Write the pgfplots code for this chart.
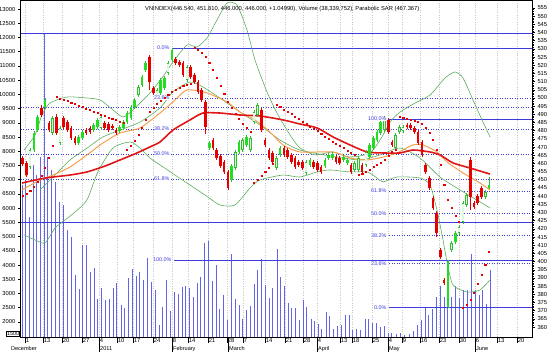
\documentclass[border=0pt]{standalone}
\usepackage{fontspec}
\setmainfont{Liberation Sans}
\usepackage{pgfplots}
\pgfplotsset{compat=1.18}
\usepackage{pgfplotstable}

\definecolor{cRed}{HTML}{E60000}
\definecolor{cGreen}{HTML}{22DD22}
\definecolor{cGreenO}{HTML}{33BB33}
\definecolor{cBlue}{HTML}{3C3CE0}
\definecolor{cVol}{HTML}{6464E6}
\definecolor{cOrange}{HTML}{F4A050}
\definecolor{cBand}{HTML}{5DAE5D}
\definecolor{cMA}{HTML}{E01515}

% candles: i, body top, body bottom, high, low (price)
\pgfplotstableread{
i t b h l
0 463.3 459.7 464.5 458.5
1 460.3 452.9 461.5 451.5
5 493.9 489.6 495.5 488.5
7 484.7 480.4 486.0 479.0
9 488.4 478.6 490.0 477.5
11 487.8 482.3 489.0 481.0
12 485.3 480.4 486.5 479.5
13 481.7 475.6 483.0 474.5
14 475.6 472.5 476.8 471.3
17 480.4 478.6 481.5 477.5
18 481.7 479.2 482.8 478.0
22 484.7 481.7 486.0 480.5
23 484.1 480.4 485.3 479.3
24 482.9 481.7 484.0 480.5
25 480.4 478.6 481.5 477.5
34 525.1 509.8 526.5 505.0
35 506.1 503.1 507.3 502.0
41 523.8 521.4 525.0 520.2
42 522.0 520.2 523.2 519.0
43 521.4 514.1 522.6 513.0
45 519.0 512.8 520.2 511.6
46 514.1 509.8 515.3 508.6
47 509.8 503.7 511.0 502.5
48 504.9 498.8 506.0 497.6
49 497.6 482.3 499.0 478.0
51 474.3 469.4 475.5 468.2
52 468.2 463.3 469.4 462.1
53 464.6 458.4 465.8 457.2
54 460.9 454.8 462.1 453.5
55 454.8 445.0 456.0 443.5
64 492.7 480.4 494.0 479.0
65 474.3 471.3 475.5 470.0
66 468.2 463.3 469.4 462.0
67 466.4 460.9 467.6 459.7
70 469.4 465.2 470.6 464.0
71 468.2 463.9 469.4 462.7
72 465.2 460.9 466.4 459.7
73 463.3 457.8 464.5 456.6
74 460.9 459.1 462.1 457.9
75 460.9 457.2 462.1 456.0
78 460.9 457.8 462.1 456.6
79 460.3 456.0 461.5 454.8
80 457.8 454.8 459.0 453.6
84 463.9 460.9 465.1 459.7
85 463.3 460.3 464.5 459.1
88 459.1 454.8 460.3 453.6
91 459.1 454.8 460.3 453.6
98 486.6 479.2 487.5 478.0
99 473.1 471.3 474.3 470.1
103 483.5 482.3 484.7 481.1
104 483.5 481.7 484.7 480.5
105 481.7 479.2 482.9 478.0
106 479.2 472.5 480.4 471.3
107 473.1 465.2 474.3 464.0
108 459.1 454.8 460.3 453.6
109 451.1 445.0 452.3 443.8
110 438.9 432.8 440.1 431.6
111 429.7 417.5 430.9 415.0
112 407.1 402.8 408.3 401.6
113 388.8 386.9 390.0 385.7
120 462.1 439.5 463.9 431.5
121 435.8 433.4 437.0 432.2
122 440.1 435.8 441.3 434.6
123 445.0 439.5 446.2 438.3
}\tabRed

\pgfplotstableread{
i t b h l
3 478.6 468.2 479.8 467.0
4 488.4 480.4 489.6 479.2
6 498.8 494.5 500.0 493.3
15 476.2 472.5 477.4 471.3
16 479.2 475.6 480.4 474.4
19 483.5 480.4 484.7 479.2
20 486.6 482.3 487.8 481.1
26 482.3 479.8 483.5 478.6
27 485.3 481.7 486.5 480.5
28 490.8 485.3 492.0 484.1
29 494.5 487.8 495.7 486.6
30 498.8 494.5 500.0 493.3
32 512.8 507.9 514.0 506.7
33 521.4 517.1 522.6 515.9
37 511.0 503.1 512.2 501.9
38 512.2 506.1 513.4 504.9
40 529.3 523.2 530.6 522.0
50 472.5 469.4 473.7 468.2
56 458.4 449.9 459.6 448.7
58 473.1 467.0 474.3 465.8
60 476.2 471.3 477.4 470.1
69 469.4 465.2 470.6 464.0
77 462.1 459.1 463.3 457.9
81 462.1 458.4 463.3 457.2
82 465.2 463.3 466.4 462.1
83 465.8 463.3 467.0 462.1
86 463.9 462.1 465.1 460.9
87 462.1 460.3 463.3 459.1
93 471.3 463.9 472.5 462.7
94 475.6 469.4 476.8 468.2
95 479.2 474.3 480.4 473.1
96 485.3 478.6 486.5 477.4
114 399.8 372.3 401.0 371.7
116 417.5 412.0 418.7 410.8
125 446.8 445.0 451.8 444.5
}\tabGreen

\pgfplotstableread{
i t b h l
2 468.2 457.8 469.4 456.6
8 487.8 478.6 489.0 477.4
10 481.7 472.5 482.9 471.3
21 488.4 481.7 489.6 480.5
31 506.7 501.8 507.9 500.6
36 504.9 500.6 506.1 499.4
39 521.4 515.3 522.6 514.1
44 519.0 511.0 520.2 509.8
57 467.0 457.2 468.2 456.0
59 474.3 468.2 475.5 467.0
61 475.6 468.2 476.8 467.0
62 491.4 485.3 492.6 484.1
63 495.7 489.6 496.9 488.4
68 463.3 457.2 464.5 456.0
76 460.9 454.2 462.1 453.0
89 460.3 456.0 461.5 454.8
90 463.3 456.0 464.5 454.8
92 467.0 459.1 468.2 457.9
97 487.8 480.4 489.0 479.2
100 477.4 469.4 478.6 468.2
101 482.3 479.2 483.5 478.0
102 482.3 479.8 483.5 478.6
115 411.4 407.1 412.6 405.9
117 421.2 417.5 422.4 416.3
118 435.8 424.2 437.0 423.0
119 440.7 434.6 441.9 433.4
124 442.5 439.5 443.7 438.3
}\tabHollow

% volume (x position, volume in 10,000 shares)
\pgfplotstableread{
x v
22.0 6805
25.7 6981
29.4 5671
33.1 7509
36.8 7157
40.5 7791
44.2 12155
47.9 7791
51.6 7333
55.3 6911
59.3 6206
63.7 6101
67.3 5221
71.7 4985
75.0 3637
79.0 3144
82.7 4693
86.7 4693
90.0 3753
94.0 3883
97.7 2792
101.7 3179
105.7 2757
109.3 2792
113.3 3179
116.7 3366
121.0 2581
124.3 2475
128.3 3542
132.3 3873
136.0 3602
139.3 3753
143.3 3486
147.3 4246
151.0 3401
155.0 3134
159.0 1877
162.7 2521
166.7 3486
170.7 2370
174.3 3049
178.3 2993
182.0 3225
185.7 3250
189.3 3190
193.3 2873
197.0 3366
200.7 3577
204.3 4774
208.3 4844
212.3 3426
216.0 3989
219.3 2465
223.3 2933
227.3 2053
231.0 4376
235.0 2817
239.0 2581
242.7 2113
246.7 2430
250.0 2546
254.0 3320
257.7 3813
261.7 4225
265.0 3285
269.0 2852
272.7 3204
277.3 4552
280.7 3577
284.0 3250
288.3 2676
291.7 2500
295.7 2500
299.3 2053
303.3 2781
306.7 2521
311.0 2088
314.3 2028
318.3 1912
321.7 1761
326.0 2345
329.3 2194
333.3 1761
337.3 1842
341.0 1877
345.0 2229
349.0 2229
352.7 1725
356.7 1761
360.7 1701
365.0 2113
368.3 2113
372.3 1958
376.0 1958
380.0 1817
384.0 1842
388.3 1606
391.7 1606
396.7 1560
400.0 1606
404.0 1525
409.0 1560
413.3 1676
417.3 1900
421.3 2078
425.0 2521
428.3 2229
432.3 2465
436.0 2873
440.0 3250
444.3 2873
447.7 4165
451.7 2873
455.7 3250
459.3 2852
463.3 3109
467.3 3109
471.0 4401
475.0 3109
479.0 2933
482.7 3109
486.7 2616
490.0 3834
}\tabVol

\pgfplotstableread{
x p
22 448.0
40 450.5
53 451.7
70 452.9
87 454.8
105 458.4
120 462.1
137 466.4
150 470.1
160 473.1
173 480.4
190 486.6
203 490.8
220 490.8
240 489.6
260 489.0
283 486.6
300 484.1
317 481.7
333 476.2
350 471.3
367 467.0
383 466.4
400 466.4
413 468.2
430 467.0
440 465.2
453 460.3
470 457.2
490 453.5
}\tabMA

\pgfplotstableread{
x p
22 443.8
40 449.9
53 452.9
70 457.8
87 465.2
103 472.5
120 478.6
140 481.7
160 490.8
175 498.8
187 504.9
207 503.1
227 497.6
240 491.4
255 486.6
270 479.2
283 471.3
300 467.0
333 467.0
350 463.3
367 462.1
383 463.9
397 466.4
413 471.3
423 471.3
437 467.0
447 460.9
463 454.2
480 448.0
490 443.8
}\tabOr

\pgfplotstableread{
x p
40 443.8
55 452.9
70 462.1
87 469.4
103 476.2
120 480.4
140 485.3
160 493.9
173 503.7
190 509.8
203 506.7
220 500.0
240 491.4
260 483.5
280 474.3
300 468.2
330 464.6
360 462.1
380 465.2
400 469.4
420 463.3
440 451.7
460 443.8
490 432.8
}\tabMid

\pgfplotstableread{
x p
24 468.2
35 477.4
42 489.6
50 496.9
67 500.6
87 500.0
100 498.8
113 492.7
123 488.4
133 492.7
150 503.1
162 512.2
173 522.0
187 532.4
197 531.2
207 536.7
217 547.7
227 558.1
237 556.8
247 541.6
255 523.2
267 503.7
277 490.8
290 477.4
300 469.4
315 465.2
333 467.0
350 463.9
370 466.4
382 476.2
390 485.3
400 491.4
415 496.9
430 501.8
445 512.2
455 515.9
463 512.2
473 498.8
482 486.6
490 476.2
}\tabUp

\pgfplotstableread{
x p
24 416.3
35 413.2
45 411.4
55 420.5
65 425.4
75 430.3
87 437.7
98 455.0
113 469.4
130 473.1
140 469.4
150 463.3
160 459.1
175 452.9
190 446.8
205 440.7
220 434.6
235 434.6
250 445.0
260 449.9
283 452.9
300 451.7
317 454.8
330 456.0
350 454.8
367 454.8
377 451.1
383 448.7
397 451.7
420 451.1
430 446.8
437 431.5
443 413.2
447 399.8
453 385.7
467 381.4
480 382.7
490 388.8
}\tabLow

\pgfplotstableread{
x p
22.7 440.1
26.4 441.3
30.2 443.2
33.9 445.6
37.6 448.7
41.4 452.3
45.1 457.2
48.8 463.3
52.6 470.7
56.3 500.6
60.0 499.7
63.7 498.8
67.5 498.2
71.2 497.3
75.0 496.3
78.7 495.4
82.4 494.5
86.1 493.6
89.9 492.7
93.6 491.8
97.3 490.8
101.0 489.9
104.8 489.0
108.5 488.1
112.2 487.2
116.0 486.6
119.7 485.6
123.4 484.7
127.1 468.2
130.9 470.7
134.6 473.7
138.3 477.4
142.1 481.7
145.8 486.6
149.5 491.4
153.3 493.9
157.0 496.3
160.8 498.2
164.5 500.0
168.2 501.8
172.0 503.7
175.7 504.9
179.4 506.1
183.2 507.3
186.9 507.9
190.6 508.6
194.3 530.6
198.1 529.3
201.8 527.5
205.5 525.1
209.2 521.4
213.0 517.1
216.7 512.2
220.4 507.3
224.2 502.4
227.9 497.6
231.6 493.9
235.4 490.2
239.1 487.2
242.8 484.1
246.5 481.7
250.3 479.2
254.0 448.0
257.8 449.9
261.5 452.3
265.2 454.8
269.0 457.2
272.7 459.7
276.4 495.7
280.2 494.5
283.9 492.7
287.6 491.4
291.3 490.2
295.1 488.4
298.8 487.2
302.5 485.3
306.3 484.1
310.0 482.3
313.7 481.1
317.4 479.8
321.2 478.0
324.9 476.2
328.6 474.9
332.4 473.1
336.1 471.9
339.8 470.7
343.5 469.4
347.3 467.6
351.0 466.4
354.7 465.2
358.4 452.9
362.2 453.5
365.9 454.8
369.6 456.0
373.3 457.8
377.1 459.1
380.8 460.3
384.5 462.1
388.3 464.6
392.0 467.0
395.7 468.2
399.4 488.4
403.2 487.8
406.9 487.2
410.6 486.6
414.4 485.9
418.1 485.3
421.8 484.1
425.5 481.7
429.3 478.6
433.0 474.3
436.7 468.2
440.5 459.1
444.2 446.8
447.9 437.7
451.6 432.8
455.4 427.9
459.1 424.2
462.9 371.7
466.6 373.5
470.3 376.6
474.1 380.8
477.8 386.3
481.5 391.8
485.2 397.9
489.0 405.9
}\tabSAR

\tikzset{
  fiblab/.style={anchor=east, text=cBlue, fill=white, inner sep=0.4bp, font=\fontsize{5.4}{6}\selectfont},
  monthlab/.style={anchor=north west, inner sep=0, font=\fontsize{5.6}{6}\selectfont},
}
\pgfplotsset{
  common/.style={
    scale only axis, width=511.5bp, height=337bp,
    xmin=20.5, xmax=532, clip=true,
    tick label style={font=\fontsize{5.8}{6.5}\selectfont},
    /pgf/number format/assume math mode=true,
    /pgf/number format/1000 sep={},
    scaled y ticks=false, scaled x ticks=false,
    axis line style={black, line width=0.6bp},
    tick style={black, line width=0.5bp},
  },
  /pgfplots/table/candle wick/.style={x expr=22.7+3.73*\thisrow{i},
     y expr=(\thisrow{h}+\thisrow{l})/2, y error expr=(\thisrow{h}-\thisrow{l})/2},
  /pgfplots/table/candle body/.style={x expr=22.7+3.73*\thisrow{i},
     y expr=(\thisrow{t}+\thisrow{b})/2, y error expr=(\thisrow{t}-\thisrow{b})/2+0.15},
  /pgfplots/table/candle inner/.style={x expr=22.7+3.73*\thisrow{i},
     y expr=(\thisrow{t}+\thisrow{b})/2, y error expr=(\thisrow{t}-\thisrow{b})/2-0.45},
  ebar/.style 2 args={draw=none, mark=none, forget plot,
     error bars/.cd, y dir=both, y explicit, error mark=none,
     error bar style={draw=#1, line width=#2}},
  fibsolid/.style={cBlue, line width=0.8bp, forget plot},
  fibdot/.style={cBlue, line width=0.8bp, dash pattern=on 1.2bp off 1.3bp, forget plot},
}

\begin{document}
\begin{tikzpicture}
\begin{axis}[common, name=vol,
  ymin=1470, ymax=13317,
  xtick pos=lower, ytick pos=left,
  tick align=outside,
  ytick={2000,2500,...,13000},
  ytick style={/pgfplots/major tick length=2bp},
  xtick={25,43,62,82,99,117,133,153,172,188,208,227,243,265,285,303,317,340,352,372,388,402,420,439,459,475,497,517},
  xticklabels={1,13,20,27,4,10,17,24,8,14,21,28,7,14,21,28,4,13,18,25,4,9,16,23,30,6,13,20},
  xtick style={/pgfplots/major tick length=6bp},
  xticklabel style={anchor=north west, inner sep=0.4bp, xshift=0.3bp, yshift=3bp},
  yticklabel style={inner sep=0.8bp},
  xmajorgrids, grid style={gray!45, line width=0.4bp, dash pattern=on 0.8bp off 1.6bp},
]
\addplot[ycomb, cVol, line width=0.9bp, forget plot] table[x=x, y=v] \tabVol;
\end{axis}
\node[anchor=east, draw=black, line width=0.4bp, fill=white, inner sep=0.6bp, font=\fontsize{5.4}{6}\selectfont] at ([shift={(-0.6bp,3bp)}]vol.south west) {1500};
\foreach \mx in {78.5,151.5,207.5,296.5,367.5,454.5}
  \draw[black, line width=0.5bp] ([xshift=\mx bp]vol.south west) -- ++(0,-15bp);
\node[monthlab, anchor=north east] at ([shift={(16.5bp,-9.5bp)}]vol.south west) {December};
\node[monthlab] at ([shift={(79.5bp,-9.5bp)}]vol.south west) {2011};
\node[monthlab] at ([shift={(152.5bp,-9.5bp)}]vol.south west) {February};
\node[monthlab] at ([shift={(208.5bp,-9.5bp)}]vol.south west) {March};
\node[monthlab] at ([shift={(297.5bp,-9.5bp)}]vol.south west) {April};
\node[monthlab] at ([shift={(368.5bp,-9.5bp)}]vol.south west) {May};
\node[monthlab] at ([shift={(455.5bp,-9.5bp)}]vol.south west) {June};

\begin{axis}[common, at={(vol.south west)}, anchor=south west,
  axis x line=none, axis y line*=right,
  ymin=353.9, ymax=559.9,
  ytick={360,365,...,555}, minor y tick num=4,
  tick align=outside,
  major tick length=3bp, minor tick length=1.5bp,
  yticklabel style={inner sep=0.8bp, xshift=1.5bp},
]
% horizontal lines
\addplot[fibsolid] coordinates {(20.5,539.7) (532,539.7)};
\addplot[fibsolid] coordinates {(20.5,424.2) (532,424.2)};
\addplot[fibsolid] coordinates {(172,530.6) (532,530.6)};
\addplot[fibdot] coordinates {(172,500.0) (532,500.0)};
\addplot[fibdot] coordinates {(20.5,494.5) (532,494.5)};
\addplot[fibdot] coordinates {(20.5,481.0) (532,481.0)};
\addplot[fibdot] coordinates {(20.5,465.8) (532,465.8)};
\addplot[fibdot] coordinates {(20.5,450.4) (532,450.4)};
\addplot[fibsolid] coordinates {(174,400.9) (532,400.9)};
\addplot[fibsolid] coordinates {(389,487.2) (532,487.2)};
\addplot[fibdot] coordinates {(389,443.1) (532,443.1)};
\addplot[fibdot] coordinates {(389,429.5) (532,429.5)};
\addplot[fibdot] coordinates {(389,415.8) (532,415.8)};
\addplot[fibdot] coordinates {(389,399.0) (532,399.0)};
\addplot[fibsolid] coordinates {(389,371.7) (532,371.7)};

% bands and averages
\addplot[cBand, line width=0.6bp, smooth, tension=0.4, forget plot] table[x=x,y=p] \tabUp;
\addplot[cBand, line width=0.6bp, smooth, tension=0.4, forget plot] table[x=x,y=p] \tabLow;
\addplot[cBand, line width=0.6bp, smooth, tension=0.4, forget plot] table[x=x,y=p] \tabMid;
\addplot[cOrange, line width=1.0bp, smooth, tension=0.4, forget plot] table[x=x,y=p] \tabOr;
\addplot[cMA, line width=1.6bp, smooth, tension=0.4, forget plot] table[x=x,y=p] \tabMA;

% candles
\addplot[ebar={cRed}{0.6bp}] table[candle wick] \tabRed;
\addplot[ebar={cGreenO}{0.6bp}] table[candle wick] \tabGreen;
\addplot[ebar={cGreenO}{0.6bp}] table[candle wick] \tabHollow;
\addplot[ebar={cRed}{2.6bp}] table[candle body] \tabRed;
\addplot[ebar={cGreen}{2.6bp}] table[candle body] \tabGreen;
\addplot[ebar={cGreenO}{2.6bp}] table[candle body] \tabHollow;
\addplot[ebar={white!85!cGreen}{1.4bp}] table[candle inner] \tabHollow;

% parabolic SAR
\addplot[only marks, mark=square*, mark size=0.55bp, cRed, forget plot] table[x=x,y=p] \tabSAR;

% labels
\node[fiblab] at (axis cs:170,530.6) {0.0\%};
\node[fiblab] at (axis cs:170,500.0) {23.6\%};
\node[fiblab] at (axis cs:170,481.0) {38.2\%};
\node[fiblab] at (axis cs:170,465.8) {50.0\%};
\node[fiblab] at (axis cs:170,450.4) {61.8\%};
\node[fiblab] at (axis cs:172,400.9) {100.0\%};
\node[fiblab] at (axis cs:387,487.2) {100.0\%};
\node[fiblab] at (axis cs:387,443.1) {61.8\%};
\node[fiblab] at (axis cs:387,429.5) {50.0\%};
\node[fiblab] at (axis cs:387,415.8) {38.2\%};
\node[fiblab] at (axis cs:387,399.0) {23.6\%};
\node[fiblab] at (axis cs:387,371.7) {0.0\%};
\node[anchor=west, inner sep=0, font=\fontsize{5.8}{6.5}\selectfont] at (axis cs:145,554.4)
  {VNINDEX(446.540, 451.810, 446.000, 446.000, +1.04990), Volume (38,339,752), Parabolic SAR (467.367)};
\end{axis}
\pgfresetboundingbox
\useasboundingbox ([shift={(-20.5bp,-15bp)}]vol.south west) rectangle ([shift={(25bp,0bp)}]vol.north east);
\end{tikzpicture}
\end{document}
